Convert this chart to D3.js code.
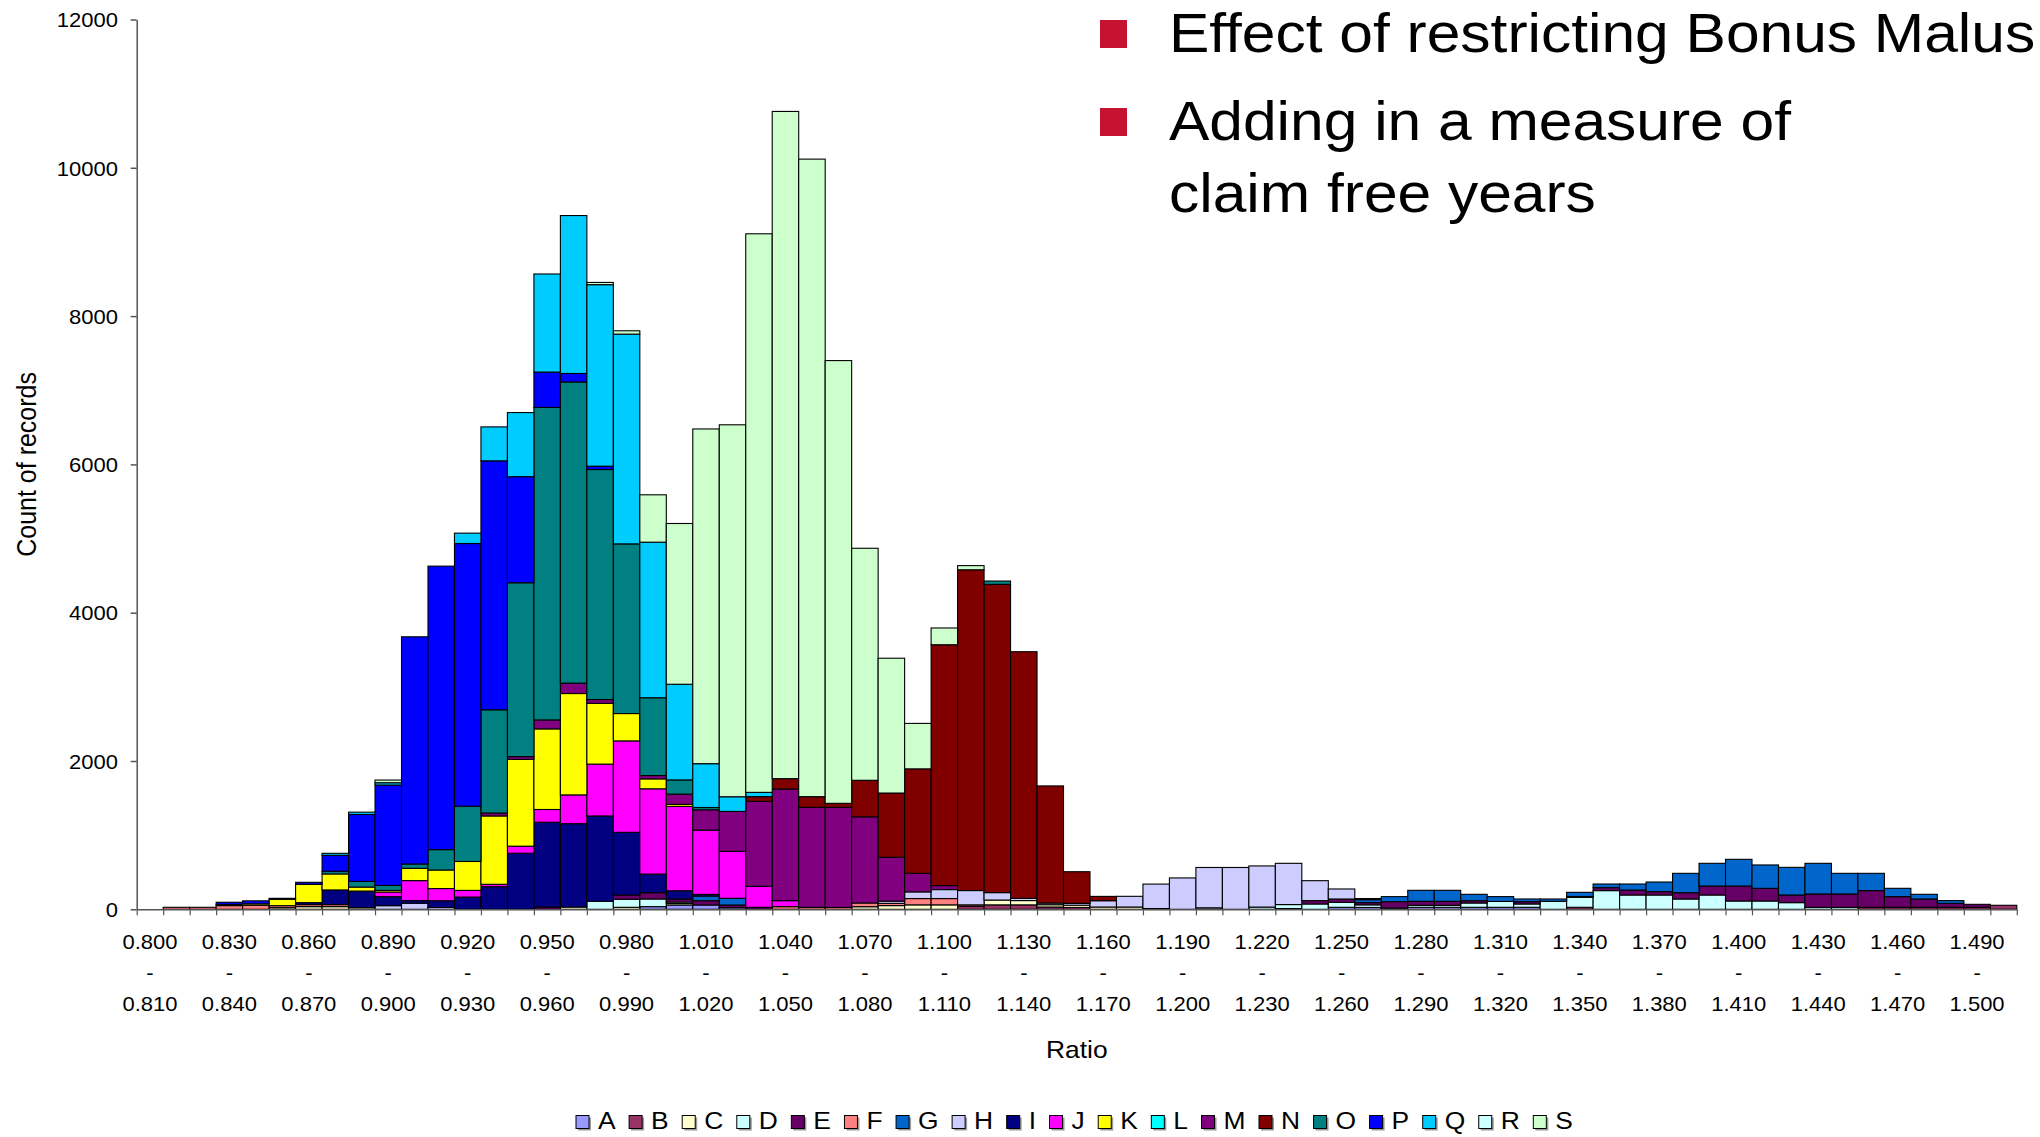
<!DOCTYPE html>
<html>
<head>
<meta charset="utf-8">
<script src="https://cdn.jsdelivr.net/npm/d3@7"></script>
<style>
  html, body { margin: 0; padding: 0; background: #fff; }
  svg { display: block; font-family: "Liberation Sans", Arial, sans-serif; }
</style>
</head>
<body>
<svg id="chart" width="2040" height="1137"></svg>
<script>
// Ratio bands (x categories)
const categories = [
  "0.800 - 0.810","0.810 - 0.820","0.820 - 0.830","0.830 - 0.840","0.840 - 0.850","0.850 - 0.860","0.860 - 0.870","0.870 - 0.880","0.880 - 0.890","0.890 - 0.900",
  "0.900 - 0.910","0.910 - 0.920","0.920 - 0.930","0.930 - 0.940","0.940 - 0.950","0.950 - 0.960","0.960 - 0.970","0.970 - 0.980","0.980 - 0.990","0.990 - 1.000",
  "1.000 - 1.010","1.010 - 1.020","1.020 - 1.030","1.030 - 1.040","1.040 - 1.050","1.050 - 1.060","1.060 - 1.070","1.070 - 1.080","1.080 - 1.090","1.090 - 1.100",
  "1.100 - 1.110","1.110 - 1.120","1.120 - 1.130","1.130 - 1.140","1.140 - 1.150","1.150 - 1.160","1.160 - 1.170","1.170 - 1.180","1.180 - 1.190","1.190 - 1.200",
  "1.200 - 1.210","1.210 - 1.220","1.220 - 1.230","1.230 - 1.240","1.240 - 1.250","1.250 - 1.260","1.260 - 1.270","1.270 - 1.280","1.280 - 1.290","1.290 - 1.300",
  "1.300 - 1.310","1.310 - 1.320","1.320 - 1.330","1.330 - 1.340","1.340 - 1.350","1.350 - 1.360","1.360 - 1.370","1.370 - 1.380","1.380 - 1.390","1.390 - 1.400",
  "1.400 - 1.410","1.410 - 1.420","1.420 - 1.430","1.430 - 1.440","1.440 - 1.450","1.450 - 1.460","1.460 - 1.470","1.470 - 1.480","1.480 - 1.490","1.490 - 1.500",
  "1.500 - 1.510"
];

const seriesKeys = ["A","B","C","D","E","F","G","H","I","J","K","L","M","N","O","P","Q","R","S"];
const seriesColors = ["#9999FF","#993366","#FFFFCC","#CCFFFF","#660066","#FF8080","#0066CC","#CCCCFF","#000080",
                      "#FF00FF","#FFFF00","#00FFFF","#800080","#800000","#008080","#0000FF","#00CCFF","#CCFFFF","#CCFFCC"];

// Count of records per band, one array per segment
const A = [
  0,0,0,0,0,0,0,0,0,0,
  0,0,0,0,0,0,0,0,0,36,
  58,58,22,0,0,0,0,0,0,0,
  0,0,0,0,0,0,0,0,0,0,
  0,0,0,10,0,27,25,18,27,27,
  27,27,27,0,0,0,0,0,0,0,
  0,0,0,0,0,0,0,0,0,0,
  0];
const B = [
  0,0,0,0,0,0,0,0,0,0,
  0,0,0,0,0,0,0,0,0,0,
  0,0,0,0,0,0,0,0,0,0,
  0,40,60,60,31,25,0,0,0,0,
  0,0,0,0,0,0,0,0,0,0,
  0,0,0,0,27,0,0,0,0,0,
  0,0,0,0,0,27,27,27,27,27,
  54];
const C = [
  0,0,0,0,0,22,36,36,22,0,
  0,0,0,0,0,0,30,0,27,0,
  20,0,0,0,0,0,0,35,50,60,
  60,0,65,58,31,30,31,31,10,0,
  0,0,0,0,0,0,0,0,0,0,
  0,0,0,0,0,0,0,0,0,0,
  0,0,0,0,0,0,0,0,0,0,
  0];
const D = [
  0,0,0,0,0,0,0,0,0,0,
  0,0,0,0,0,0,0,108,108,103,
  20,0,0,0,0,0,0,0,0,0,
  0,0,0,0,0,0,0,0,0,0,
  20,0,30,54,72,67,35,0,27,27,
  58,80,45,108,135,252,193,193,139,193,
  112,112,90,27,27,0,0,0,0,0,
  0];
const E = [
  0,0,0,0,0,0,0,0,0,0,
  0,0,0,0,0,30,0,0,58,85,
  40,58,36,27,0,0,0,0,0,0,
  0,0,0,0,0,0,0,0,0,0,
  0,0,0,0,45,45,30,85,54,54,
  31,0,31,0,10,40,67,45,85,121,
  202,171,103,180,180,225,144,112,54,40,
  0];
const F = [
  0,27,27,50,54,27,27,27,0,0,
  0,0,0,0,0,0,0,0,0,0,
  0,0,0,0,36,27,25,50,30,85,
  85,20,0,0,0,0,0,0,0,0,
  0,0,0,0,0,0,0,0,0,0,
  0,0,0,0,0,0,0,0,0,0,
  0,0,0,0,0,0,0,0,0,0,
  0];
const G = [
  0,0,0,0,0,0,0,0,0,0,
  0,0,0,0,0,0,0,0,0,0,
  0,63,90,0,0,0,0,0,0,0,
  0,0,0,0,0,0,0,0,0,0,
  0,0,0,0,0,0,40,68,148,148,
  86,64,36,31,57,49,81,130,261,306,
  360,315,373,413,278,233,112,63,36,0,
  0];
const H = [
  0,0,0,0,0,0,0,0,0,49,
  81,25,0,0,0,0,0,0,0,0,
  0,0,0,0,0,0,0,0,30,90,
  121,193,100,30,22,25,85,144,330,423,
  544,564,555,556,269,135,15,0,0,0,
  0,0,0,0,0,0,0,0,0,0,
  0,0,0,0,0,0,0,0,0,0,
  0];
const I = [
  0,0,0,15,0,0,27,198,224,121,
  36,90,165,305,756,1144,1125,1151,845,251,
  112,22,0,0,0,0,0,0,0,0,
  0,0,0,0,0,0,0,0,0,0,
  0,0,0,0,0,0,0,0,0,0,
  0,0,0,0,0,0,0,0,0,0,
  0,0,0,0,0,0,0,0,0,0,
  0];
const J = [
  0,0,0,0,0,0,0,0,0,63,
  270,165,90,32,95,172,388,699,1233,1150,
  1138,867,633,283,81,0,0,0,0,0,
  0,0,0,0,0,0,0,0,0,0,
  0,0,0,0,0,0,0,0,0,0,
  0,0,0,0,0,0,0,0,0,0,
  0,0,0,0,0,0,0,0,0,0,
  0];
const K = [
  0,0,0,0,20,86,247,216,54,22,
  166,250,390,922,1170,1087,1367,820,369,134,
  27,0,0,0,0,0,0,0,0,0,
  0,0,0,0,0,0,0,0,0,0,
  0,0,0,0,0,0,0,0,0,0,
  0,0,0,0,0,0,0,0,0,0,
  0,0,0,0,0,0,0,0,0,0,
  0];
const L = [
  0,0,0,0,0,0,0,0,0,0,
  0,0,0,0,0,0,0,0,0,0,
  0,0,0,0,0,0,0,0,0,0,
  0,0,0,0,0,0,0,0,0,0,
  0,0,0,0,0,0,0,0,0,0,
  0,0,0,0,0,0,0,0,0,0,
  0,0,0,0,0,0,0,0,0,0,
  0];
const M = [
  0,0,0,0,0,0,0,0,0,0,
  0,0,0,40,38,121,140,51,0,45,
  139,274,539,1146,1505,1348,1350,1162,592,250,
  54,0,0,0,0,0,0,0,0,0,
  0,0,0,0,0,0,0,0,0,0,
  0,0,0,0,0,0,0,0,0,0,
  0,0,0,0,0,0,0,0,0,0,
  0];
const N = [
  0,0,0,0,0,0,0,0,0,0,
  0,0,0,0,0,0,0,0,0,0,
  0,0,0,63,140,144,54,493,866,1409,
  3248,4326,4157,3326,1580,427,58,0,0,0,
  0,0,0,0,0,0,0,0,0,0,
  0,0,0,0,0,0,0,0,0,0,
  0,0,0,0,0,0,0,0,0,0,
  0];
const O = [
  0,0,0,0,0,13,0,36,76,67,
  58,275,745,1392,2345,4215,4062,3102,2288,1049,
  191,31,0,0,0,0,0,0,0,0,
  0,0,45,0,0,0,0,0,0,0,
  0,0,0,0,0,0,0,0,0,0,
  0,0,0,0,0,0,0,0,0,0,
  0,0,0,0,0,0,0,0,0,0,
  0];
const P = [
  0,0,0,30,40,0,27,215,903,1354,
  3064,3823,3543,3357,1431,476,114,45,0,0,
  0,0,0,0,0,0,0,0,0,0,
  0,0,0,0,0,0,0,0,0,0,
  0,0,0,0,0,0,0,0,0,0,
  0,0,0,0,0,0,0,0,0,0,
  0,0,0,0,0,0,0,0,0,0,
  0];
const Q = [
  0,0,0,0,0,0,0,27,31,31,
  0,0,140,458,864,1323,2130,2448,2829,2098,
  1290,591,198,58,0,0,0,0,0,0,
  0,0,0,0,0,0,0,0,0,0,
  0,0,0,0,0,0,0,0,0,0,
  0,0,0,0,0,0,0,0,0,0,
  0,0,0,0,0,0,0,0,0,0,
  0];
const R = [
  0,0,0,0,0,0,0,0,0,0,
  0,0,0,0,0,0,0,0,0,0,
  0,0,0,0,0,0,0,0,0,0,
  0,0,0,0,0,0,0,0,0,0,
  0,0,0,0,0,0,0,0,0,0,
  0,0,0,0,0,0,0,0,0,0,
  0,0,0,0,0,0,0,0,0,0,
  0];
const S = [
  0,0,0,0,0,0,0,0,0,36,
  0,0,0,0,0,0,0,30,45,639,
  2168,4514,5016,7533,8998,8598,5971,3129,1818,613,
  226,56,0,0,0,0,0,0,0,0,
  0,0,0,0,0,0,0,0,0,0,
  0,0,0,0,0,0,0,0,0,0,
  0,0,0,0,0,0,0,0,0,0,
  0];

const yTicks = [0, 2000, 4000, 6000, 8000, 10000, 12000];
const notes = [
  { text: "Effect of restricting Bonus Malus", bullet: true },
  { text: "Adding in a measure of", bullet: true },
  { text: "claim free years", bullet: false }
];

// ---- layout ----
const plot = { left: 136.7, right: 2016.8, top: 19.5, bottom: 909.3 };
const STRETCH = 1.1;          // text is drawn slightly wide
const AXIS_COLOR = "#555";

const svg = d3.select("#chart");

const seriesValues = { A, B, C, D, E, F, G, H, I, J, K, L, M, N, O, P, Q, R, S };
const rows = categories.map((cat, i) => {
  const r = { cat };
  seriesKeys.forEach(k => { r[k] = seriesValues[k][i]; });
  return r;
});

const x = d3.scaleBand().domain(categories).range([plot.left, plot.right]).padding(0);
const y = d3.scaleLinear().domain([0, 12000]).range([plot.bottom, plot.top]);
const color = d3.scaleOrdinal().domain(seriesKeys).range(seriesColors);

const stacked = d3.stack().keys(seriesKeys)(rows);

// stacked bars
svg.append("g")
  .selectAll("g")
  .data(stacked)
  .join("g")
    .attr("fill", d => color(d.key))
  .selectAll("rect")
  .data(d => d.filter(s => s[1] - s[0] > 0))
  .join("rect")
    .attr("x", d => x(d.data.cat))
    .attr("width", x.bandwidth())
    .attr("y", d => y(d[1]))
    .attr("height", d => y(d[0]) - y(d[1]))
    .attr("stroke", "#000")
    .attr("stroke-width", 1.1);

// y axis
const yAxis = svg.append("g")
  .attr("transform", `translate(${plot.left},0)`)
  .call(d3.axisLeft(y).tickValues(yTicks).tickSize(6).tickSizeOuter(0).tickFormat(d3.format("d")));
yAxis.select(".domain").attr("stroke", AXIS_COLOR).attr("stroke-width", 1.5);
yAxis.selectAll(".tick line").attr("stroke", AXIS_COLOR).attr("stroke-width", 1.5);
yAxis.selectAll(".tick text")
  .attr("x", -17)
  .attr("dy", "0.36em")
  .attr("fill", "#000")
  .attr("font-size", 20)
  .attr("font-family", "Liberation Sans, Arial, sans-serif")
  .attr("transform", `scale(${STRETCH},1)`);

// x axis: line and a tick at every band boundary
const xEdge = d3.scaleLinear().domain([0, categories.length]).range([plot.left, plot.right]);
const xTicks = svg.append("g")
  .attr("transform", `translate(0,${plot.bottom})`)
  .call(d3.axisBottom(xEdge).tickValues(d3.range(0, categories.length + 1))
        .tickSize(6).tickSizeOuter(0).tickFormat(""));
xTicks.select(".domain").attr("stroke", AXIS_COLOR).attr("stroke-width", 1.5);
xTicks.selectAll(".tick line").attr("stroke", AXIS_COLOR).attr("stroke-width", 1.2);

// x labels: every third band, written on three lines
const labelCats = categories.filter((c, i) => i % 3 === 0);
const xLab = svg.append("g")
  .attr("transform", `translate(0,${plot.bottom})`)
  .call(d3.axisBottom(x).tickValues(labelCats).tickSize(0).tickPadding(0));
xLab.select(".domain").remove();
xLab.selectAll(".tick text").each(function(d) {
  const parts = d.split(" - ");
  const t = d3.select(this);
  t.text(null)
    .attr("y", null).attr("dy", null)
    .attr("fill", "#000")
    .attr("font-size", 20)
    .attr("font-family", "Liberation Sans, Arial, sans-serif")
    .attr("transform", `scale(${STRETCH},1)`);
  [parts[0], "-", parts[1]].forEach((p, j) => {
    t.append("tspan").attr("x", 0).attr("y", [40, 70.5, 102][j]).text(p);
  });
});

// axis titles
svg.append("text")
  .attr("transform", `translate(36,${(plot.top + plot.bottom) / 2}) scale(${STRETCH},1) rotate(-90)`)
  .attr("text-anchor", "middle")
  .attr("font-size", 25)
  .text("Count of records");

svg.append("text")
  .attr("transform", `translate(${(plot.left + plot.right) / 2},1058) scale(${STRETCH},1)`)
  .attr("text-anchor", "middle")
  .attr("font-size", 24)
  .text("Ratio");

// bulleted notes, top right
const noteBaselines = [52, 140, 212];
const bulletTops = [20, 108];
const notesG = svg.append("g");
notes.forEach((n, i) => {
  if (n.bullet) {
    notesG.append("rect")
      .attr("x", 1100).attr("y", bulletTops[i])
      .attr("width", 27).attr("height", 28)
      .attr("fill", "#C51230");
  }
  notesG.append("text")
    .attr("transform", `translate(1169,${noteBaselines[i]}) scale(${STRETCH},1)`)
    .attr("font-size", 55)
    .attr("fill", "#000")
    .text(n.text);
});

// legend along the bottom
const legend = svg.append("g");
let lx = 576;
seriesKeys.forEach(k => {
  const g = legend.append("g").attr("transform", `translate(${lx},1115.5)`);
  g.append("rect").attr("x", 2).attr("y", 2).attr("width", 13).attr("height", 13).attr("fill", "#9a9a9a");
  g.append("rect").attr("width", 13).attr("height", 13)
    .attr("fill", color(k)).attr("stroke", "#000").attr("stroke-width", 1);
  const t = g.append("text")
    .attr("transform", `translate(22,13.5) scale(${STRETCH},1)`)
    .attr("font-size", 24)
    .text(k);
  lx += 35.5 + t.node().getComputedTextLength() * STRETCH;
});
</script>
</body>
</html>
